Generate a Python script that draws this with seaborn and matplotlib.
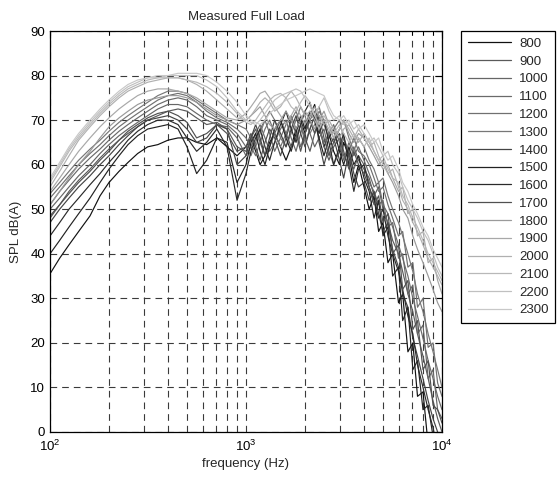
import numpy as np
import pandas as pd
import matplotlib
matplotlib.use("Agg")
import matplotlib.pyplot as plt
import seaborn as sns

freq = [100, 112, 125, 140, 160, 180, 200, 225, 250, 280, 315, 355, 400, 450, 500, 560, 630, 710, 800, 900, 1000,
        1060, 1120, 1180, 1250, 1320, 1400, 1500, 1600, 1700, 1800, 1900, 2000, 2120, 2240, 2360, 2500, 2650, 2800,
        3000, 3150, 3350, 3550, 3750,
        4000, 4250, 4500, 4750, 5000, 5300, 5600, 6000, 6300, 6700, 7100, 7500, 8000, 8500, 9000, 9500, 10000]

rpm_labels = ["800", "900", "1000", "1100", "1200", "1300", "1400", "1500",
              "1600", "1700", "1800", "1900", "2000", "2100", "2200", "2300"]

spl_800 = [35.5, 39, 42, 45, 48.5, 53, 56, 58.5, 60.5, 62.5, 64, 64.5, 65.5, 66, 66, 65, 64.5, 66, 64, 62, 64,
           66, 63, 60, 62, 65, 67, 64, 61, 64, 68, 70, 67, 71, 73.5, 69, 64, 67, 63, 60, 65, 62, 56, 60,
           55, 50, 53, 45, 47, 38, 40, 29, 31, 18, 20, 8, 9, -3, -8, -12, -15]
spl_900 = [48, 51, 54, 56.5, 59, 61.5, 63.5, 65.5, 67, 68.5, 70, 71, 72, 72.5, 72, 70.5, 69, 69.5, 68, 64, 63,
           66, 68, 65, 62, 64, 67, 70, 67, 64, 66, 69, 66, 63, 67, 69, 64, 61, 64, 66, 62, 60, 64, 61,
           59, 57, 53, 55, 50, 47, 43, 40, 36, 31, 27, 22, 17, 12, 7, 3, 0]
spl_1000 = [50, 52.5, 55, 57.5, 60, 62.5, 64.5, 66.5, 68, 69.5, 71, 72.5, 73.5, 73.5, 73, 71.5, 70, 69, 68.5, 66, 62,
            64, 67, 69, 66, 63, 65, 68, 70, 66, 63, 67, 70, 67, 64, 66, 68, 63, 60, 63, 66, 62, 59, 62,
            60, 56, 54, 51, 52, 46, 47, 39, 40, 31, 33, 22, 24, 12, 14, 5, 3]
spl_1100 = [51, 54, 56.5, 59, 61.5, 63.5, 65.5, 67.5, 69, 70.5, 72, 73.5, 74.5, 75, 74.5, 73, 71, 70, 69, 67, 64,
            62, 65, 68, 70, 67, 63, 66, 69, 71, 68, 64, 67, 70, 72, 68, 65, 67, 69, 65, 61, 65, 62, 64,
            61, 58, 55, 56, 51, 49, 46, 42, 39, 35, 30, 26, 21, 16, 12, 8, 5]
spl_1200 = [52.5, 55, 57.5, 60, 62.5, 64.5, 66.5, 68.5, 70, 71.5, 73, 74.5, 75.5, 76, 75.5, 74, 72, 70.5, 69.5, 68, 66,
            64, 62, 65, 68, 70, 67, 64, 67, 70, 72, 69, 65, 68, 71, 73, 69, 66, 68, 70, 66, 63, 66, 63,
            62, 60, 57, 54, 55, 51, 48, 44, 45, 37, 38, 28, 30, 19, 20, 11, 8]
spl_1300 = [53.5, 56, 58.5, 61, 63.5, 65.5, 67.5, 69.5, 71, 72.5, 74, 75.5, 76.5, 76.5, 76, 74.5, 73, 71.5, 70, 69, 68,
            66, 64, 67, 70, 72, 70, 66, 64, 67, 70, 73, 71, 67, 69, 72, 70, 67, 65, 68, 70, 66, 63, 66,
            64, 61, 59, 56, 57, 53, 50, 47, 44, 40, 36, 31, 27, 22, 18, 14, 10]
spl_1400 = [47, 50, 52.5, 55, 57.5, 60, 62, 64.5, 66.5, 68.5, 70, 70.5, 71, 70, 68, 65, 66, 69, 68, 60, 62,
            66, 69, 66, 62, 66, 70, 67, 64, 68, 71, 67, 64, 68, 71, 65, 60, 64, 66, 61, 57, 63, 58, 55,
            56, 52, 54, 49, 45, 47, 41, 37, 31, 28, 21, 17, 12, 7, 3, 0, -3]
spl_1500 = [40, 43, 46, 49, 52.5, 56, 59, 62, 64.5, 66.5, 68, 68.5, 69, 68, 64, 58, 61, 66, 65, 56, 60,
            65, 67, 63, 60, 64, 68, 70, 66, 63, 67, 71, 68, 72, 70, 66, 62, 66, 68, 63, 60, 64, 60, 62,
            57, 54, 48, 52, 44, 46, 35, 37, 25, 28, 14, 16, 5, 6, -1, -6, -10]
spl_1600 = [44, 47, 50, 52.5, 55.5, 58, 60.5, 63, 65.5, 67.5, 69, 70, 70, 69, 66, 63, 65, 68, 64, 52, 58,
            63, 66, 68, 64, 61, 65, 69, 72, 68, 65, 69, 72, 74, 70, 67, 70, 65, 60, 64, 67, 60, 54, 59,
            60, 55, 52, 48, 50, 44, 40, 36, 32, 26, 22, 15, 10, 5, 1, -4, -8]
spl_1700 = [48.5, 51, 53.5, 56, 58.5, 61, 63, 65.5, 67.5, 69, 70.5, 71.5, 72, 71, 69.5, 66, 67, 69, 67, 63, 64,
            67, 64, 61, 65, 68, 66, 62, 66, 70, 67, 63, 67, 70, 67, 71, 66, 62, 65, 67, 63, 59, 63, 60,
            58, 55, 51, 53, 47, 49, 40, 42, 32, 34, 23, 25, 14, 16, 6, 5, 2]
spl_1800 = [51, 54, 57, 60, 63, 66, 68.5, 70.5, 72, 73.5, 74.5, 75, 75.5, 75.5, 75, 74, 72.5, 71, 70, 69, 70,
            71, 72, 73, 71, 69, 68, 70, 72, 70, 68, 70, 72, 70, 68, 70, 72, 69, 66, 68, 70, 67, 65, 67,
            66, 64, 62, 60, 61, 58, 56, 53, 50, 48, 44, 41, 38, 35, 32, 29, 27]
spl_1900 = [54, 57, 60, 63, 66, 68.5, 70.5, 72.5, 74, 75.5, 76.5, 77, 77, 76.5, 76, 75, 73.5, 72, 70.5, 70, 71.5,
            73, 74.5, 76, 76.5, 75, 73, 71, 69, 71, 73, 71, 69, 71, 73, 71, 69, 70, 68, 66, 68, 69, 67, 65,
            67, 65, 63, 61, 59, 60, 57, 54, 55, 49, 50, 44, 45, 38, 39, 34, 31]
spl_2000 = [55, 58.5, 62, 65.5, 68.5, 71, 73, 75, 76.5, 77.5, 78.5, 79, 79.5, 79.5, 79, 78, 76.5, 74.5, 72.5, 70.5, 70,
            71, 72.5, 74, 75, 74, 72, 73, 75, 76.5, 75, 73, 71, 72, 70, 68, 70, 68, 66, 68, 70, 68, 66, 68,
            66, 64, 65, 62, 60, 58, 59, 55, 52, 50, 47, 45, 42, 39, 37, 35, 33]
spl_2100 = [56, 59.5, 63, 66, 69, 71.5, 73.5, 75.5, 77, 78, 79, 79.5, 79.5, 79.5, 79, 78.5, 77.5, 76, 74, 71.5, 69.5,
            69, 70, 71.5, 73, 74.5, 75.5, 76, 75, 73, 72, 74, 75.5, 74, 71, 69, 71, 69, 67, 69, 67, 65, 67, 66,
            64, 66, 63, 61, 62, 59, 57, 56, 53, 51, 48, 46, 43, 40, 38, 36, 34]
spl_2200 = [56.5, 60, 63.5, 66.5, 69.5, 72, 74, 76, 77.5, 78.5, 79.5, 79.5, 80, 80, 80, 80, 79, 77.5, 75, 72, 70,
            69.5, 69, 70, 71.5, 73, 74.5, 75.5, 76, 76.5, 77, 76.5, 75, 73, 71, 73, 75, 72, 70, 71, 69, 70, 68, 69,
            67, 65, 66, 64, 62, 63, 60, 58, 55, 52, 50, 48, 45, 43, 40, 37, 35]
spl_2300 = [57, 60.5, 64, 67, 70, 72.5, 74.5, 76.5, 78, 79, 79.5, 80, 80, 80.5, 80.5, 80.5, 80, 78.5, 76.5, 74, 71,
            70, 69.5, 69, 70, 71.5, 72.5, 73.5, 74.5, 75, 75.5, 76, 76.5, 77, 76.5, 76, 75.5, 73, 71, 70, 71, 69, 70, 68,
            69, 67, 65, 66, 63, 61, 62, 59, 56, 54, 51, 49, 46, 44, 41, 39, 37]

series = [spl_800, spl_900, spl_1000, spl_1100, spl_1200, spl_1300, spl_1400, spl_1500,
          spl_1600, spl_1700, spl_1800, spl_1900, spl_2000, spl_2100, spl_2200, spl_2300]

line_colors = ["#111111", "#5a5a5a", "#666666", "#6a6a6a", "#707070", "#777777", "#444444", "#222222",
               "#2a2a2a", "#505050", "#9a9a9a", "#a8a8a8", "#b0b0b0", "#b8b8b8", "#c0c0c0", "#c8c8c8"]

rows = []
for lab, vals in zip(rpm_labels, series):
    for f, v in zip(freq, vals):
        rows.append({"freq": f, "spl": v, "rpm": lab})
df = pd.DataFrame(rows)

sns.set_style("white")
plt.rcParams["font.family"] = ["Liberation Sans", "DejaVu Sans"]
plt.rcParams["mathtext.fontset"] = "custom"
plt.rcParams["mathtext.rm"] = "Liberation Sans"
plt.rcParams["mathtext.it"] = "Liberation Sans"

fig = plt.figure(figsize=(5.58, 4.84), dpi=100)
ax = fig.add_axes([50 / 558, 1 - 432 / 484, 392 / 558, 401 / 484])

palette = dict(zip(rpm_labels, line_colors))
sns.lineplot(data=df, x="freq", y="spl", hue="rpm", hue_order=rpm_labels, palette=palette,
             estimator=None, sort=False, linewidth=0.85, ax=ax, legend=True)

ax.set_xscale("log")
ax.set_xlim(100, 10000)
ax.set_ylim(0, 90)
ax.set_yticks(range(0, 91, 10))
ax.yaxis.set_minor_locator(matplotlib.ticker.NullLocator())

grid_kw = dict(color="#3a3a3a", linestyle=(0, (6, 4.5)), linewidth=0.8)
ax.grid(True, which="major", axis="both", **grid_kw)
ax.grid(True, which="minor", axis="x", **grid_kw)
ax.set_axisbelow(True)

for s in ax.spines.values():
    s.set_visible(True)
    s.set_color("black")
    s.set_linewidth(0.9)

ax.tick_params(which="both", direction="in", top=True, right=True, labelsize=9.5, colors="black")
ax.tick_params(which="major", length=5, width=0.8)
ax.tick_params(which="minor", length=3, width=0.7)
ax.tick_params(axis="x", which="major", pad=5)

ax.set_title("Measured Full Load", fontsize=9.5, pad=8)
ax.set_xlabel("frequency (Hz)", fontsize=9.5, labelpad=3)
ax.set_ylabel("SPL dB(A)", fontsize=9.5, labelpad=6)

handles, labels = ax.get_legend_handles_labels()
leg = ax.legend(handles, labels, loc="upper left", bbox_to_anchor=(461 / 558, 1 - 31 / 484),
                bbox_transform=fig.transFigure, fontsize=9.5, frameon=True, fancybox=False,
                edgecolor="black", framealpha=1, handlelength=3.3, handletextpad=0.6,
                labelspacing=0.42, borderpad=0.5, borderaxespad=0)
leg.get_frame().set_linewidth(0.9)
for lh in leg.get_lines():
    lh.set_linewidth(0.9)

fig.savefig("out.png", dpi=100)
